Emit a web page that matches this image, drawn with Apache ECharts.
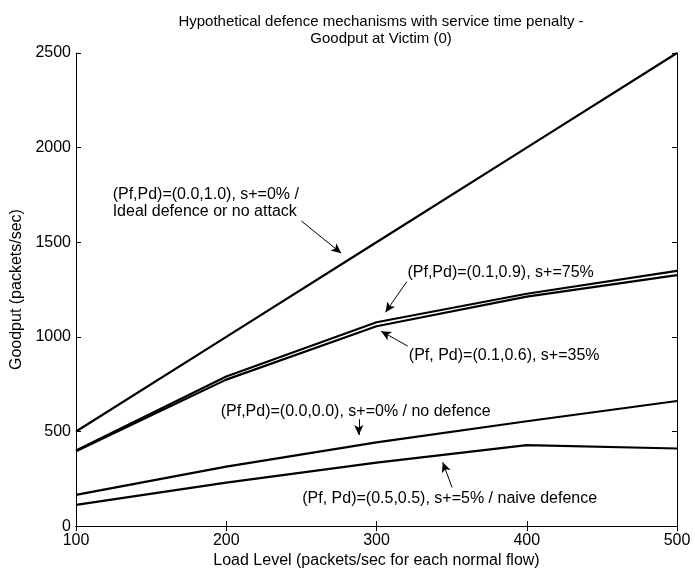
<!DOCTYPE html>
<html>
<head>
<meta charset="utf-8">
<script src="https://cdn.jsdelivr.net/npm/echarts@6/dist/echarts.min.js"></script>
<style>
  html, body { margin: 0; padding: 0; background: #fff; }
  #main { width: 695px; height: 574px; }
</style>
</head>
<body>
<div id="main"></div>
<script>
// load levels (packets/sec for each normal flow)
const loads = [100, 200, 300, 400, 500];

// goodput at victim, one array per defence setting
const ideal = [500, 1000, 1500, 2000, 2500];
const pf01pd09 = [400, 791, 1077, 1228, 1349];
const pf01pd06 = [395, 774, 1056, 1213, 1326];
const noDefence = [165, 314, 442, 554, 661];
const naive = [112, 230, 335, 428, 410];

// annotation texts with their anchor (data coords) and arrows
const annoTexts = [
  '(Pf,Pd)=(0.0,1.0), s+=0% /\nIdeal defence or no attack',
  '(Pf,Pd)=(0.1,0.9), s+=75%',
  '(Pf, Pd)=(0.1,0.6), s+=35%',
  '(Pf,Pd)=(0.0,0.0), s+=0% / no defence',
  '(Pf, Pd)=(0.5,0.5), s+=5% / naive defence'
];
const annoAt = [[124.4, 1708], [320.6, 1337], [321.5, 902], [196.3, 607], [250.6, 147]];
const arrowFrom = [[250, 1612], [320.1, 1291], [320.8, 951], [288.2, 565], [350.3, 204]];
const arrowTo = [[276.5, 1442], [306, 1130], [303.1, 1030], [288.2, 482], [344.1, 337]];

const chart = echarts.init(document.getElementById('main'));
const font = 'Liberation Sans, Arial, sans-serif';

const pairs = (ys) => loads.map((x, i) => [x, ys[i]]);
const lineSeries = (name, ys) => ({
  name,
  type: 'line',
  data: pairs(ys),
  symbol: 'none',
  lineStyle: { color: '#000', width: 2.2 },
  z: 3
});

const axisCommon = {
  type: 'value',
  axisLine: { show: true, lineStyle: { color: '#000', width: 1 } },
  axisTick: { show: true, inside: true, length: 5, lineStyle: { color: '#000' } },
  splitLine: { show: false }
};

const series = [
  lineSeries('ideal', ideal),
  lineSeries('pf01pd09', pf01pd09),
  lineSeries('pf01pd06', pf01pd06),
  lineSeries('noDefence', noDefence),
  lineSeries('naive', naive)
];

// annotations hang off the first series
series[0].markPoint = {
  symbol: 'circle',
  symbolSize: 0,
  silent: true,
  animation: false,
  label: {
    show: true,
    position: 'right',
    distance: 0,
    color: '#000',
    fontFamily: font,
    fontSize: 16,
    lineHeight: 17,
    align: 'left',
    formatter: (p) => annoTexts[p.dataIndex]
  },
  data: annoAt.map((c) => ({ coord: c }))
};
series[0].markLine = {
  silent: true,
  animation: false,
  symbol: ['none', 'arrow'],
  symbolSize: [7, 10],
  label: { show: false },
  lineStyle: { color: '#000', width: 1, type: 'solid' },
  data: arrowFrom.map((c, i) => [{ coord: c }, { coord: arrowTo[i] }])
};

const option = {
  animation: false,
  backgroundColor: '#fff',
  title: {
    text: 'Hypothetical defence mechanisms with service time penalty -\nGoodput at Victim (0)',
    left: 376,
    top: 8,
    textAlign: 'center',
    textStyle: {
      color: '#000',
      fontFamily: font,
      fontSize: 15,
      fontWeight: 'normal',
      lineHeight: 17
    }
  },
  grid: { left: 76, right: 18, top: 53, bottom: 46 },
  xAxis: [
    Object.assign({}, axisCommon, {
      position: 'bottom',
      min: 100, max: 500, interval: 100,
      name: 'Load Level (packets/sec for each normal flow)',
      nameLocation: 'middle',
      nameGap: 25,
      nameTextStyle: { color: '#000', fontFamily: font, fontSize: 16 },
      axisLabel: { color: '#000', fontFamily: font, fontSize: 16, margin: 6 }
    }),
    Object.assign({}, axisCommon, {
      position: 'top',
      min: 100, max: 500, interval: 100,
      axisLabel: { show: false }
    })
  ],
  yAxis: [
    Object.assign({}, axisCommon, {
      position: 'left',
      min: 0, max: 2500, interval: 500,
      name: 'Goodput (packets/sec)',
      nameLocation: 'middle',
      nameGap: 48,
      nameTextStyle: { color: '#000', fontFamily: font, fontSize: 16 },
      axisLabel: {
        color: '#000', fontFamily: font, fontSize: 16, margin: 5,
        formatter: (v) => String(v)
      }
    }),
    Object.assign({}, axisCommon, {
      position: 'right',
      min: 0, max: 2500, interval: 500,
      axisLabel: { show: false }
    })
  ],
  series
};

chart.setOption(option);
</script>
</body>
</html>
